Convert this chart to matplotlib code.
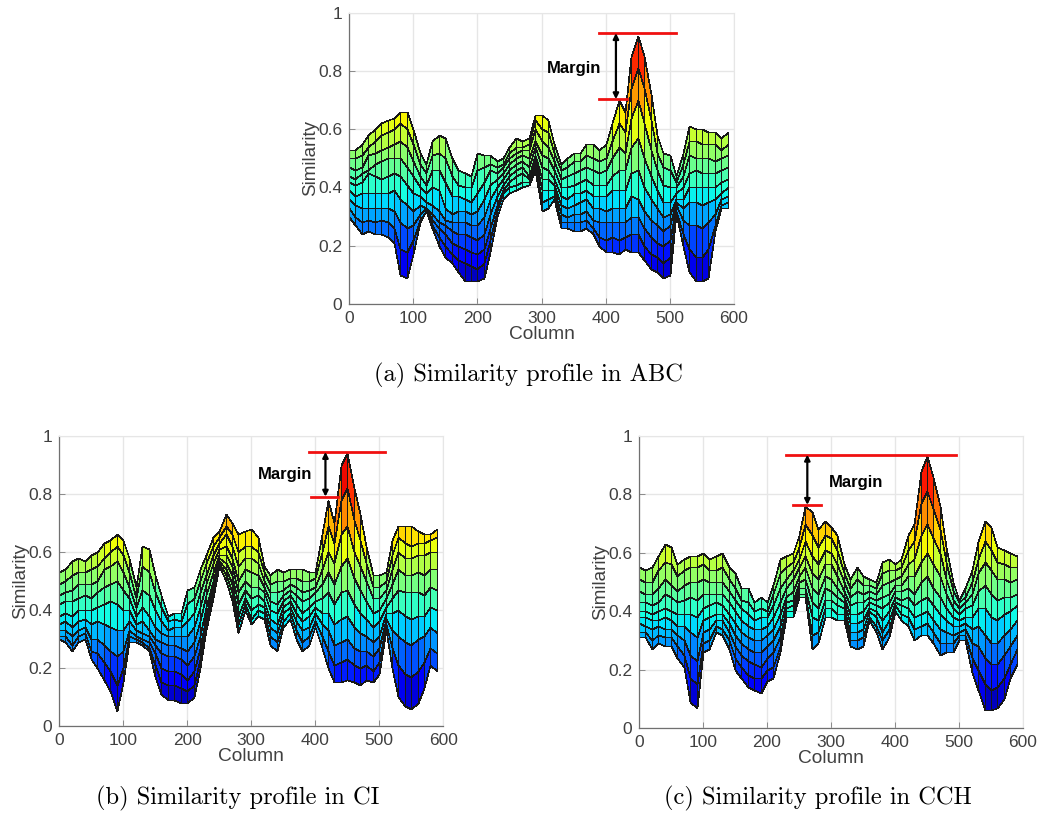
import matplotlib
matplotlib.use("Agg")
import matplotlib.pyplot as plt
import numpy as np

# similarity in percent, one line per column (0, 10, ... 590), surface rows from top edge to bottom edge
columns = list(range(0, 600, 10))

surface_abc = [
    [53,50,47,44,42,39,36,33,30],[53,50,46,43,41,37,34,30,27],[55,51,47,45,42,38,33,28,24],[58,54,51,46,45,38,33,29,25],
    [60,56,52,48,44,38,33,28,24],[62,58,53,49,43,38,33,29,24],[63,59,54,50,44,38,33,28,23],[64,60,55,50,45,39,32,26,21],
    [66,62,56,50,44,36,28,19,10],[66,60,54,47,41,34,26,18,9],[60,55,49,44,38,32,27,22,17],[52,48,44,40,37,34,31,29,28],
    [48,45,41,38,35,33,33,32,32],[56,51,46,40,34,31,29,27,26],[58,52,46,39,32,28,26,23,20],[57,50,42,33,29,27,24,20,16],
    [50,44,37,31,28,25,21,17,14],[46,41,37,32,28,24,20,15,11],[45,40,36,32,28,24,19,14,8],[44,40,35,31,27,23,18,13,8],
    [52,46,38,32,27,22,17,12,8],[51,47,42,36,30,24,19,14,9],[51,48,46,41,36,31,26,22,18],[49,47,45,43,40,37,34,32,30],
    [50,48,47,45,43,41,39,38,36],[54,52,50,48,46,44,42,40,38],[57,54,52,50,48,46,44,41,39],[56,54,53,51,49,47,45,42,40],
    [57,55,53,50,47,44,43,42,41],[65,63,60,56,54,51,50,48,46],[65,60,56,51,47,43,39,35,32],[63,59,54,50,46,43,39,36,33],
    [55,52,49,46,43,41,39,37,36],[48,46,43,40,37,34,31,28,26],[50,47,44,40,36,33,30,28,26],[52,49,45,41,38,34,31,28,25],
    [52,49,46,42,38,35,31,28,25],[55,51,47,43,39,36,32,29,26],[55,50,46,41,37,33,29,26,24],[53,49,45,41,37,33,28,23,20],
    [55,50,46,41,37,32,28,22,18],[62,56,50,44,39,33,28,23,18],[70,62,54,46,39,33,28,22,17],[66,59,52,46,39,33,28,23,19],
    [85,74,64,54,45,37,30,24,18],[92,81,70,57,46,36,30,24,18],[85,74,62,50,40,32,26,20,15],[72,63,53,44,36,29,23,17,12],
    [58,52,46,39,33,27,21,16,11],[52,47,41,35,30,25,20,14,9],[51,46,40,35,31,27,22,16,10],[44,42,40,38,36,35,34,32,31],
    [52,48,44,40,36,33,29,24,20],[61,56,51,45,40,35,27,19,11],[60,56,50,46,40,35,27,16,8],[60,55,50,45,40,34,26,16,8],
    [59,55,50,45,40,35,28,19,9],[59,55,49,45,40,36,31,27,25],[57,53,50,46,42,38,36,34,33],[59,55,51,47,43,40,37,35,33],
]

surface_ci = [
    [53,49,45,42,38,35,33,31,30],[54,50,46,43,39,36,33,31,29],[57,52,47,43,38,34,31,28,26],[58,53,49,44,40,36,33,31,29],
    [57,53,49,45,40,37,34,32,30],[59,54,49,44,40,35,30,26,23],[60,55,50,46,41,36,30,25,20],[63,58,54,48,42,35,28,22,16],
    [64,60,55,49,43,34,26,19,12],[66,62,57,50,42,33,24,14,5],[64,59,53,47,40,33,26,20,15],[58,53,48,44,40,36,33,31,29],
    [48,44,41,38,35,33,31,30,29],[62,55,47,41,36,32,30,29,28],[61,53,45,38,33,31,29,27,26],[52,46,40,34,30,28,25,21,17],
    [45,41,36,32,29,25,20,15,11],[38,36,33,31,28,24,19,14,9],[39,37,34,31,28,24,19,14,9],[39,36,34,31,27,23,18,13,8],
    [47,42,36,31,26,21,16,12,8],[48,44,39,34,29,24,19,14,10],[54,50,46,41,36,31,27,23,20],[59,56,52,49,45,41,38,35,33],
    [65,62,59,56,53,50,48,46,44],[67,65,63,61,59,58,57,56,55],[73,69,66,62,59,56,54,52,50],[70,66,62,58,55,52,49,46,43],
    [66,60,55,50,46,42,38,35,32],[67,62,58,54,50,47,44,42,40],[68,62,58,53,48,44,40,37,35],[65,60,56,52,48,45,42,40,38],
    [55,53,50,48,46,43,41,39,37],[52,49,46,43,40,37,34,31,28],[54,50,46,42,39,35,32,29,26],[53,50,47,45,43,41,39,36,34],
    [54,51,49,47,45,43,41,39,37],[54,51,48,45,42,39,36,33,30],[54,50,46,43,39,36,33,29,26],[53,50,47,44,41,38,34,31,28],
    [53,51,48,46,43,41,39,36,34],[66,60,54,49,44,39,35,31,27],[78,69,60,53,46,39,33,26,20],[70,63,56,49,42,35,28,21,15],
    [90,78,66,55,46,37,29,22,15],[94,82,69,58,47,38,30,23,16],[82,71,60,51,42,34,27,21,15],[73,64,55,47,39,32,26,20,14],
    [62,56,50,43,37,31,26,21,16],[52,48,44,39,34,29,24,19,15],[52,48,44,40,36,31,27,22,18],[53,50,47,44,41,39,37,35,33],
    [64,59,54,49,44,39,33,27,20],[69,65,60,54,47,40,31,21,10],[69,63,58,52,46,38,29,18,7],[69,62,58,52,46,37,28,17,6],
    [67,63,59,53,46,38,30,19,8],[66,63,59,52,45,38,31,22,13],[66,64,60,54,48,41,34,27,21],[68,65,60,54,47,40,32,25,19],
]

surface_cch = [
    [55,51,47,43,40,38,36,33,31],[54,50,46,43,40,38,35,33,31],[55,50,46,42,39,37,34,30,27],[59,54,48,43,40,37,35,32,29],
    [63,57,51,46,41,38,34,31,28],[62,56,49,45,40,37,34,31,28],[56,52,47,43,39,35,32,28,24],[58,54,49,44,39,35,30,25,21],
    [59,55,50,45,39,33,25,17,9],[59,55,50,44,38,31,23,15,7],[60,56,51,46,41,37,33,29,26],[58,54,50,46,42,38,34,30,27],
    [59,54,50,46,43,39,37,35,33],[60,55,50,46,42,39,37,34,32],[55,51,47,43,39,36,33,30,27],[53,48,44,40,36,32,28,24,20],
    [48,44,41,37,33,29,25,21,17],[48,43,39,35,31,27,23,18,14],[43,40,37,34,30,26,22,17,13],[45,41,38,34,30,26,21,17,12],
    [43,40,38,35,32,28,24,20,16],[49,46,42,38,34,30,26,21,17],[58,53,48,43,39,35,31,28,26],[59,55,51,48,45,43,41,40,38],
    [60,57,54,51,47,44,42,40,38],[66,62,58,55,52,50,48,46,45],[76,70,64,59,55,51,48,46,45],[74,66,59,53,48,43,38,32,27],
    [68,62,56,51,46,41,37,33,29],[71,66,61,56,52,48,44,41,38],[69,65,60,56,51,47,44,41,38],[66,61,56,52,48,45,42,39,37],
    [56,53,50,47,45,43,41,39,37],[51,48,45,42,39,36,33,30,28],[55,51,47,43,39,36,33,30,27],[52,49,46,43,40,37,34,31,28],
    [51,49,47,45,43,41,40,38,37],[50,48,46,44,42,40,38,35,33],[57,53,49,45,41,37,33,30,27],[58,54,50,46,43,40,37,34,31],
    [56,54,51,49,47,45,43,42,40],[58,55,52,49,47,44,42,39,37],[66,61,56,52,48,45,41,38,35],[70,64,58,52,46,42,38,34,30],
    [88,77,66,57,50,44,39,35,32],[93,81,70,60,52,45,40,36,32],[86,75,65,56,48,42,37,33,29],[76,68,60,52,45,39,34,29,25],
    [62,57,51,46,41,37,33,29,26],[50,47,44,41,38,35,32,29,26],[44,43,41,39,37,35,33,32,30],[48,45,43,41,38,36,34,32,30],
    [54,50,46,42,38,34,29,24,19],[64,58,53,47,41,35,28,20,13],[71,64,57,49,41,32,24,15,6],[69,61,54,46,38,29,22,13,6],
    [62,57,51,44,37,29,22,14,7],[61,56,51,45,39,32,25,17,10],[60,55,50,45,40,34,28,22,17],[59,55,51,46,42,37,32,27,22],
]

captions = ["(a) Similarity profile in ABC", "(b) Similarity profile in CI", "(c) Similarity profile in CCH"]
xticks = [0, 100, 200, 300, 400, 500, 600]
yticks = [0, 0.2, 0.4, 0.6, 0.8, 1]
ytick_labels = ["0", "0.2", "0.4", "0.6", "0.8", "1"]

W, H = 1041, 813
plt.rcParams["font.family"] = ["Liberation Sans", "DejaVu Sans"]
fig = plt.figure(figsize=(W / 100, H / 100), dpi=100)


def panel(box, surface, top_line, low_line, arrow_x, text_xy):
    left, right, top, bottom = box
    ax = fig.add_axes([left / W, 1 - bottom / H, (right - left) / W, (bottom - top) / H])
    z = np.array(surface).T / 100
    x = np.tile(np.array(columns), (z.shape[0], 1))
    c = (z[:-1, :-1] + z[1:, :-1] + z[:-1, 1:] + z[1:, 1:]) / 4
    ax.pcolormesh(x, z, c, cmap="jet", vmin=0.05, vmax=0.95, shading="flat",
                  edgecolors="#181818", linewidth=0.45, zorder=2)
    ax.set_xlim(0, 600)
    ax.set_ylim(0, 1)
    ax.set_xticks(xticks)
    ax.set_yticks(yticks)
    ax.set_yticklabels(ytick_labels)
    ax.grid(True, color="#e6e6e6", linewidth=1)
    ax.set_axisbelow(True)
    ax.tick_params(direction="in", length=4, width=0.7, colors="#8a8a8a", labelsize=12.5,
                   labelcolor="#404040")
    ax.tick_params(axis="x", pad=5.2)
    ax.tick_params(axis="y", pad=5)
    ax.set_xlabel("Column", fontsize=13.8, color="#404040", labelpad=0)
    ax.set_ylabel("Similarity", fontsize=13.5, color="#404040", labelpad=-1)
    for s in ["left", "bottom"]:
        ax.spines[s].set_color("#707070")
        ax.spines[s].set_linewidth(0.9)
    for s in ["top", "right"]:
        ax.spines[s].set_color("#e6e6e6")
    # red lines and arrow
    ax.plot(top_line[:2], [top_line[2]] * 2, color="#f01010", lw=2, zorder=4, clip_on=False)
    ax.plot(low_line[:2], [low_line[2]] * 2, color="#f01010", lw=2, zorder=4, clip_on=False)
    ax.annotate("", xy=(arrow_x, top_line[2]), xytext=(arrow_x, low_line[2]), zorder=5,
                arrowprops=dict(arrowstyle="<|-|>", color="k", lw=1.6, shrinkA=0, shrinkB=0, mutation_scale=8))
    ax.text(text_xy[0], text_xy[1], "Margin", fontsize=12, fontweight="bold", color="k",
            ha="center", va="center", zorder=5)


panel((349, 734, 12.7, 304), surface_abc, (390, 510, 0.93), (390, 434, 0.703), 416, (350, 0.81))
panel((59, 443.3, 435.7, 726), surface_ci, (390, 509, 0.944), (393, 436, 0.79), 416, (353, 0.865))
panel((639, 1023, 436, 728), surface_cch, (229, 495, 0.936), (241, 285, 0.764), 263, (339, 0.84))

fig.text(528 / W, 1 - 375 / H, captions[0], family="cmr10", fontsize=17.6, ha="center", va="center")
fig.text(237.5 / W, 1 - 798 / H, captions[1], family="cmr10", fontsize=17.6, ha="center", va="center")
fig.text(818 / W, 1 - 798 / H, captions[2], family="cmr10", fontsize=17.6, ha="center", va="center")

fig.savefig("out.png", dpi=100)
